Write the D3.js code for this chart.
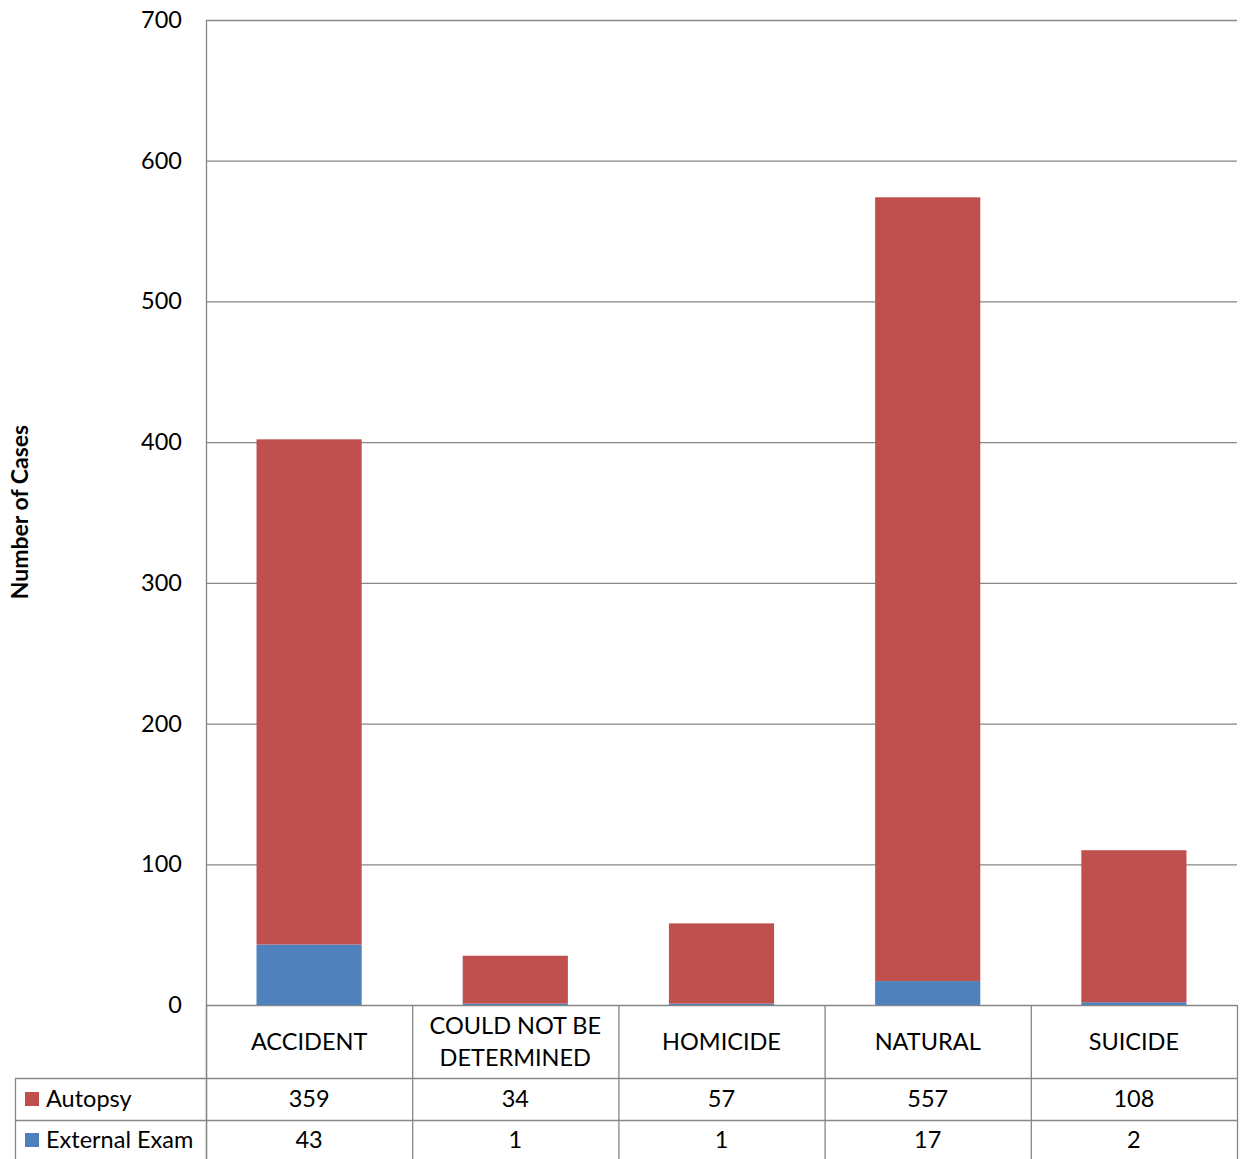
<!DOCTYPE html>
<html><head><meta charset="utf-8">
<script src="https://cdn.jsdelivr.net/npm/d3@7"></script>
<style>body{margin:0;background:#fff}text{font-family:Lato,"Open Sans",sans-serif;fill:#000}</style>
</head><body>
<svg width="1248" height="1159"></svg>
<script>
var categories = [['ACCIDENT'], ['COULD NOT BE', 'DETERMINED'], ['HOMICIDE'], ['NATURAL'], ['SUICIDE']];
var autopsy = [359, 34, 57, 557, 108];
var external = [43, 1, 1, 17, 2];
var yTicks = [0, 100, 200, 300, 400, 500, 600, 700];

var svg = d3.select('svg');
var plotLeft = 206, plotRight = 1237, plotTop = 20, plotBottom = 1005;
var fs = 23.5;
var x = d3.scaleBand().domain(d3.range(categories.length)).range([plotLeft, plotRight]).paddingInner(0.49).paddingOuter(0.245);
var y = d3.scaleLinear().domain([0, 700]).range([plotBottom, plotTop]);
var grid = '#868686';

// gridlines
svg.selectAll('.g').data(yTicks).enter().append('line')
  .attr('x1', plotLeft).attr('x2', plotRight).attr('y1', function(d) { return y(d) + 0.5; }).attr('y2', function(d) { return y(d) + 0.5; })
  .attr('stroke', grid).attr('stroke-width', 1.3);
svg.append('line').attr('x1', plotLeft + 0.5).attr('x2', plotLeft + 0.5).attr('y1', plotTop).attr('y2', 1159).attr('stroke', grid).attr('stroke-width', 1.3);
svg.selectAll('.t').data(yTicks).enter().append('text')
  .attr('x', 182).attr('y', function(d) { return y(d) + 8; }).attr('text-anchor', 'end').attr('font-size', fs).text(function(d) { return d; });

// bars
svg.selectAll('.e').data(external).enter().append('rect')
  .attr('x', function(d, i) { return x(i); }).attr('width', x.bandwidth())
  .attr('y', function(d) { return y(d); }).attr('height', function(d) { return y(0) - y(d); }).attr('fill', '#4F81BD');
svg.selectAll('.a').data(autopsy).enter().append('rect')
  .attr('x', function(d, i) { return x(i); }).attr('width', x.bandwidth())
  .attr('y', function(d, i) { return y(d + external[i]); }).attr('height', function(d) { return y(0) - y(d); }).attr('fill', '#C0504D');

// table
var step = (plotRight - plotLeft) / categories.length;
[1078, 1120].forEach(function(yy) {
  svg.append('line').attr('x1', 15).attr('x2', plotRight).attr('y1', yy + 0.5).attr('y2', yy + 0.5).attr('stroke', grid).attr('stroke-width', 1.3);
});
svg.append('line').attr('x1', 15.5).attr('x2', 15.5).attr('y1', 1078).attr('y2', 1159).attr('stroke', grid).attr('stroke-width', 1.3);
d3.range(categories.length + 1).forEach(function(i) {
  var xx = plotLeft + i * step;
  svg.append('line').attr('x1', xx + 0.5).attr('x2', xx + 0.5).attr('y1', plotBottom).attr('y2', 1159).attr('stroke', grid).attr('stroke-width', 1.3);
});
categories.forEach(function(c, i) {
  var cx = plotLeft + (i + 0.5) * step;
  var t = svg.append('text').attr('text-anchor', 'middle').attr('font-size', fs);
  c.forEach(function(line, j) {
    t.append('tspan').attr('x', cx).attr('y', 1050 + (j - (c.length - 1) / 2) * 32).text(line);
  });
  svg.append('text').attr('x', cx).attr('y', 1107).attr('text-anchor', 'middle').attr('font-size', fs).text(autopsy[i]);
  svg.append('text').attr('x', cx).attr('y', 1148).attr('text-anchor', 'middle').attr('font-size', fs).text(external[i]);
});
[['Autopsy', '#C0504D', 1099], ['External Exam', '#4F81BD', 1140]].forEach(function(r) {
  svg.append('rect').attr('x', 25).attr('y', r[2] - 7).attr('width', 14).attr('height', 14).attr('fill', r[1]);
  svg.append('text').attr('x', 46).attr('y', r[2] + 8).attr('font-size', fs).text(r[0]);
});

svg.append('text').attr('transform', 'translate(28,512) rotate(-90)').attr('text-anchor', 'middle')
  .attr('font-size', 23).attr('font-weight', 'bold').text('Number of Cases');
</script>
</body></html>
